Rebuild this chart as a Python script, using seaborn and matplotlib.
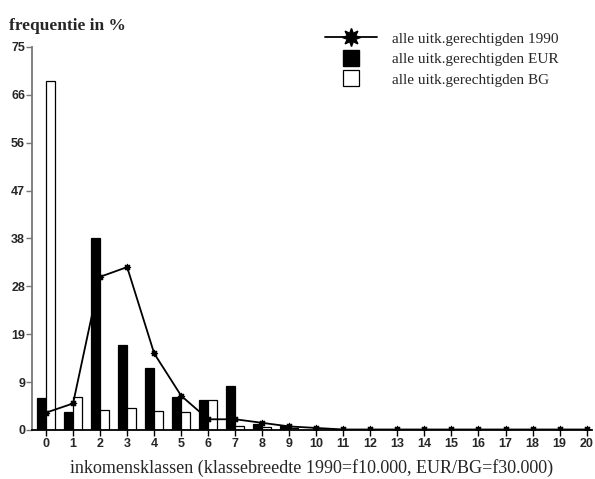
import numpy as np
import pandas as pd
import matplotlib
matplotlib.use("Agg")
import matplotlib.pyplot as plt
import seaborn as sns
from matplotlib.lines import Line2D

classes = list(range(21))
eur = [6.2, 3.6, 37.5, 16.6, 12.1, 6.5, 5.9, 8.7, 1.2, 0.8, 0, 0, 0, 0, 0, 0, 0, 0, 0, 0, 0]
bg = [68.3, 6.4, 3.9, 4.4, 3.8, 3.5, 5.8, 0.85, 0.5, 0.3, 0, 0, 0, 0, 0, 0, 0, 0, 0, 0, 0]
y1990 = [3.4, 5.2, 30.0, 31.9, 15.0, 6.7, 2.1, 2.1, 1.4, 0.7, 0.4, 0.1, 0.1, 0.1, 0.1, 0.1, 0.1, 0.1, 0.1, 0.1, 0.1]
ytick_vals = [0, 75/8, 2*75/8, 3*75/8, 4*75/8, 5*75/8, 6*75/8, 7*75/8, 75]
ytick_labels = ["0", "9", "19", "28", "38", "47", "56", "66", "75"]
lbl_1990 = "alle uitk.gerechtigden 1990"
lbl_eur = "alle uitk.gerechtigden EUR"
lbl_bg = "alle uitk.gerechtigden BG"

sns.set_style("white")
serif = ["Liberation Serif", "DejaVu Serif"]
sans = ["Liberation Sans", "DejaVu Sans"]

df = pd.DataFrame({
    "klasse": classes * 2,
    "waarde": eur + bg,
    "reeks": ["EUR"] * len(classes) + ["BG"] * len(classes),
})

fig = plt.figure(figsize=(5.95, 4.79), dpi=100)
ax = fig.add_axes([32/595, 1 - 430/479, (592-32)/595, (430-47)/479])

sns.barplot(data=df, x="klasse", y="waarde", hue="reeks", order=classes,
            hue_order=["EUR", "BG"], palette={"EUR": "black", "BG": "white"},
            edgecolor="black", linewidth=0.9, width=0.67, gap=0, ax=ax,
            legend=False, errorbar=None)
sns.lineplot(x=classes, y=y1990, color="black", linewidth=1.3,
             marker=(8, 1, 0), markersize=5, markeredgecolor="black", ax=ax)

ax.set_xlim(-0.52, 20.2)
ax.set_ylim(0, 75)
ax.set_yticks(ytick_vals)
ax.set_yticklabels(ytick_labels, fontfamily=sans, fontweight="bold", fontsize=9)
ax.set_xticks(classes)
ax.set_xticklabels([str(c) for c in classes], fontfamily=sans, fontweight="bold", fontsize=9)
for s in ["top", "right"]:
    ax.spines[s].set_visible(False)
ax.spines["left"].set_color("#777777")
ax.spines["left"].set_linewidth(1.3)
ax.spines["bottom"].set_color("black")
ax.spines["bottom"].set_linewidth(1.3)
ax.tick_params(axis="y", length=4, width=1, color="#777777", pad=1, left=True)
ax.tick_params(axis="x", length=4, width=1, color="black", pad=2, bottom=True)
ax.set_xlabel("inkomensklassen (klassebreedte 1990=f10.000, EUR/BG=f30.000)",
              fontfamily=serif, fontsize=13, labelpad=6)
ax.set_ylabel("")
fig.text(9/595, 1 - 26/479, "frequentie in %", fontfamily=serif, fontsize=12.5,
         fontweight="bold", va="center", ha="left")

handles = [
    Line2D([0], [0], color="black", linewidth=1.3, marker=(8, 1, 0), markersize=13),
    Line2D([0], [0], linestyle="none", marker="s", markersize=12,
           markerfacecolor="black", markeredgecolor="black"),
    Line2D([0], [0], linestyle="none", marker="s", markersize=12,
           markerfacecolor="white", markeredgecolor="black", markeredgewidth=0.9),
]
fig.legend(handles, [lbl_1990, lbl_eur, lbl_bg], loc="upper left",
           bbox_to_anchor=(325/595, 1 - 32/479), frameon=False,
           prop={"family": serif, "size": 11}, handlelength=3.4,
           handletextpad=1.0, labelspacing=0.45, borderpad=0, borderaxespad=0)

fig.savefig("out.png", dpi=100)
